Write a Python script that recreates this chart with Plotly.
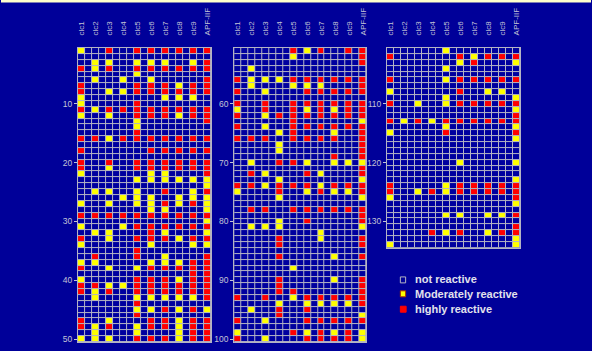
import plotly.graph_objects as go

# ---------------- data ----------------
# 0 = not reactive, 1 = moderately reactive, 2 = highly reactive
columns = ["clc1", "clc2", "clc3", "clc4", "clc5", "clc6", "clc7", "clc8", "clc9", "APF-IIF"]

panel1_rows = [  # rows 1-50
    "1020222222", "0000000000", "0110111012", "2120222222", "0000100000",
    "0101010002", "2000222122", "2011222222", "1000001110", "1000200000",
    "2122222222", "1010222122", "0000100002", "0000100000", "0000200000",
    "2212222222", "0000000000", "2000022222", "0000000000", "2020222222",
    "2010222222", "1000011002", "0000111111", "0000000001", "0110102012",
    "0001110111", "1010112121", "0000011001", "2222222222", "0000000001",
    "1001222222", "0110021001", "2010222122", "1000010011", "0000200000",
    "0200201002", "1100011122", "2010122222", "0000000022", "1000222122",
    "2211222222", "2120222222", "0100111112", "0000200000", "0000112121",
    "0000200000", "2010022122", "2120122122", "0100100122", "1110222122",
]
panel2_rows = [  # rows 51-100
    "0000212022", "0000100002", "0000000002", "0100000000", "0000000000",
    "2111222222", "0100111002", "2010022222", "0000000000", "2020222222",
    "1020212122", "2012222222", "0000200001", "2010222222", "0001200102",
    "2220222202", "0001000002", "0001000002", "0000000202", "0102210111",
    "0000000002", "0210021002", "0001000001", "2212221222", "1002012112",
    "0001000001", "0000000000", "0220222222", "0000000002", "0001020002",
    "0111000001", "0000001000", "0002001002", "0002000002", "0000000000",
    "0002000102", "0000000000", "0000100000", "0000000000", "0002000102",
    "0002000002", "0002200002", "2020122222", "0001011112", "0102020000",
    "0002000001", "2010022222", "0000000000", "1000212121", "2010022221",
]
panel3_rows = [  # rows 101-134
    "0000100000", "2000021222", "0000012001", "0000100000", "0000000000",
    "2000122222", "0000000000", "1000020110", "0000100001", "2010122222",
    "0000000001", "0000000002", "2121222222", "0000100001", "1000200002",
    "0000000001", "0000000000", "0000000000", "0000000000", "0000010001",
    "0000000000", "0000000000", "0000000001", "2000122222", "2012122222",
    "1000000002", "0000000001", "0000000000", "0000110112", "0000000000",
    "0000000002", "0002120122", "0000000001", "1000000001",
]
panel_start = [1, 51, 101]
panel_yticks = [[10, 20, 30, 40, 50], [60, 70, 80, 90, 100], [110, 120, 130]]
legend_labels = ["not reactive", "Moderately reactive", "highly reactive"]

# ---------------- styling ----------------
W, H = 592, 351
BG = "#000099"
CELL_BLUE = "#00009f"
GRID = "#b4b4c4"
YEL = "#ffff00"
RED = "#ff0000"
TXT = "#c4c4d6"

# panel pixel boxes (left, right, top, bottom)
boxes = [(77.3, 210.7, 48.3, 344.0), (234.0, 366.7, 48.3, 344.0), (387.3, 520.7, 48.3, 249.3)]


def px_x(x):
    return x / W


def px_y(y):
    return 1 - y / H


colorscale = [[0, CELL_BLUE], [1 / 3, CELL_BLUE], [1 / 3, YEL], [2 / 3, YEL], [2 / 3, RED], [1, RED]]

fig = go.Figure()
panels = [panel1_rows, panel2_rows, panel3_rows]
for i, rows in enumerate(panels):
    # interleave spacer sub-columns between the 10 data columns
    z = []
    for r in rows:
        vals = [int(c) for c in r]
        line = []
        for j, v in enumerate(vals):
            line.append(v)
            if j < len(vals) - 1:
                line.append(0)
        z.append(line)
    yvals = list(range(panel_start[i], panel_start[i] + len(rows)))
    xvals = list(range(len(z[0])))
    ax = "" if i == 0 else str(i + 1)
    fig.add_trace(go.Heatmap(
        z=z, x=xvals, y=yvals, zmin=-0.5, zmax=2.5, colorscale=colorscale,
        showscale=False, xgap=1, ygap=1, hoverinfo="skip",
        xaxis="x" + ax, yaxis="y" + ax,
    ))
    l, r, t, b = boxes[i]
    common_line = dict(showline=True, mirror=True, linecolor=GRID, linewidth=1,
                       showgrid=False, zeroline=False)
    fig.layout["xaxis" + ax] = dict(
        domain=[px_x(l), px_x(r)], anchor="y" + ax, side="top",
        range=[-0.5, len(z[0]) - 0.5],
        tickmode="array", tickvals=[2 * k for k in range(len(columns))], ticktext=columns,
        tickangle=-90, ticks="outside", ticklen=10, tickcolor="rgba(0,0,0,0)",
        tickfont=dict(family="Liberation Sans, Arial", size=8, color=TXT),
        fixedrange=True, **common_line,
    )
    fig.layout["yaxis" + ax] = dict(
        domain=[px_y(b), px_y(t)], anchor="x" + ax,
        range=[panel_start[i] + len(rows) - 0.5, panel_start[i] - 0.5],
        tickmode="array", tickvals=panel_yticks[i], ticktext=[str(v) for v in panel_yticks[i]],
        ticks="outside", ticklen=3, tickcolor=TXT, tickwidth=1,
        tickfont=dict(family="Liberation Sans, Arial", size=8.5, color=TXT),
        fixedrange=True, **common_line,
    )

shapes = [
    dict(type="rect", xref="paper", yref="paper", x0=0, x1=1, y0=px_y(2.5), y1=1,
         fillcolor="#ffffcc", line=dict(width=0), layer="above"),
]
# legend squares
sq = [(400.7, 406.0, 278.5, 284.5, BG, GRID),
      (400.7, 406.0, 292.5, 298.5, YEL, "#aa3300"),
      (400.7, 406.5, 308.0, 314.0, RED, RED)]
for (x0, x1, y0, y1, fc, lc) in sq:
    shapes.append(dict(type="rect", xref="paper", yref="paper",
                       x0=px_x(x0), x1=px_x(x1), y0=px_y(y1), y1=px_y(y0),
                       fillcolor=fc, line=dict(color=lc, width=1)))
annotations = []
for k, (lab, yc) in enumerate(zip(legend_labels, [281.0, 295.5, 311.0])):
    annotations.append(dict(
        text="<b>" + lab + "</b>", xref="paper", yref="paper",
        x=px_x(413.5), y=px_y(yc), xanchor="left", yanchor="middle", showarrow=False,
        font=dict(family="Liberation Sans, Arial", size=11, color="#e2e2ec"),
    ))

fig.update_layout(
    width=W, height=H, margin=dict(l=0, r=0, t=0, b=0),
    paper_bgcolor=BG, plot_bgcolor=GRID, showlegend=False,
    shapes=shapes, annotations=annotations,
)
fig.write_html(
    "out.html",
    config={"displayModeBar": False, "staticPlot": True},
    post_script="document.body.style.margin='0px'; document.body.style.overflow='hidden';",
)
